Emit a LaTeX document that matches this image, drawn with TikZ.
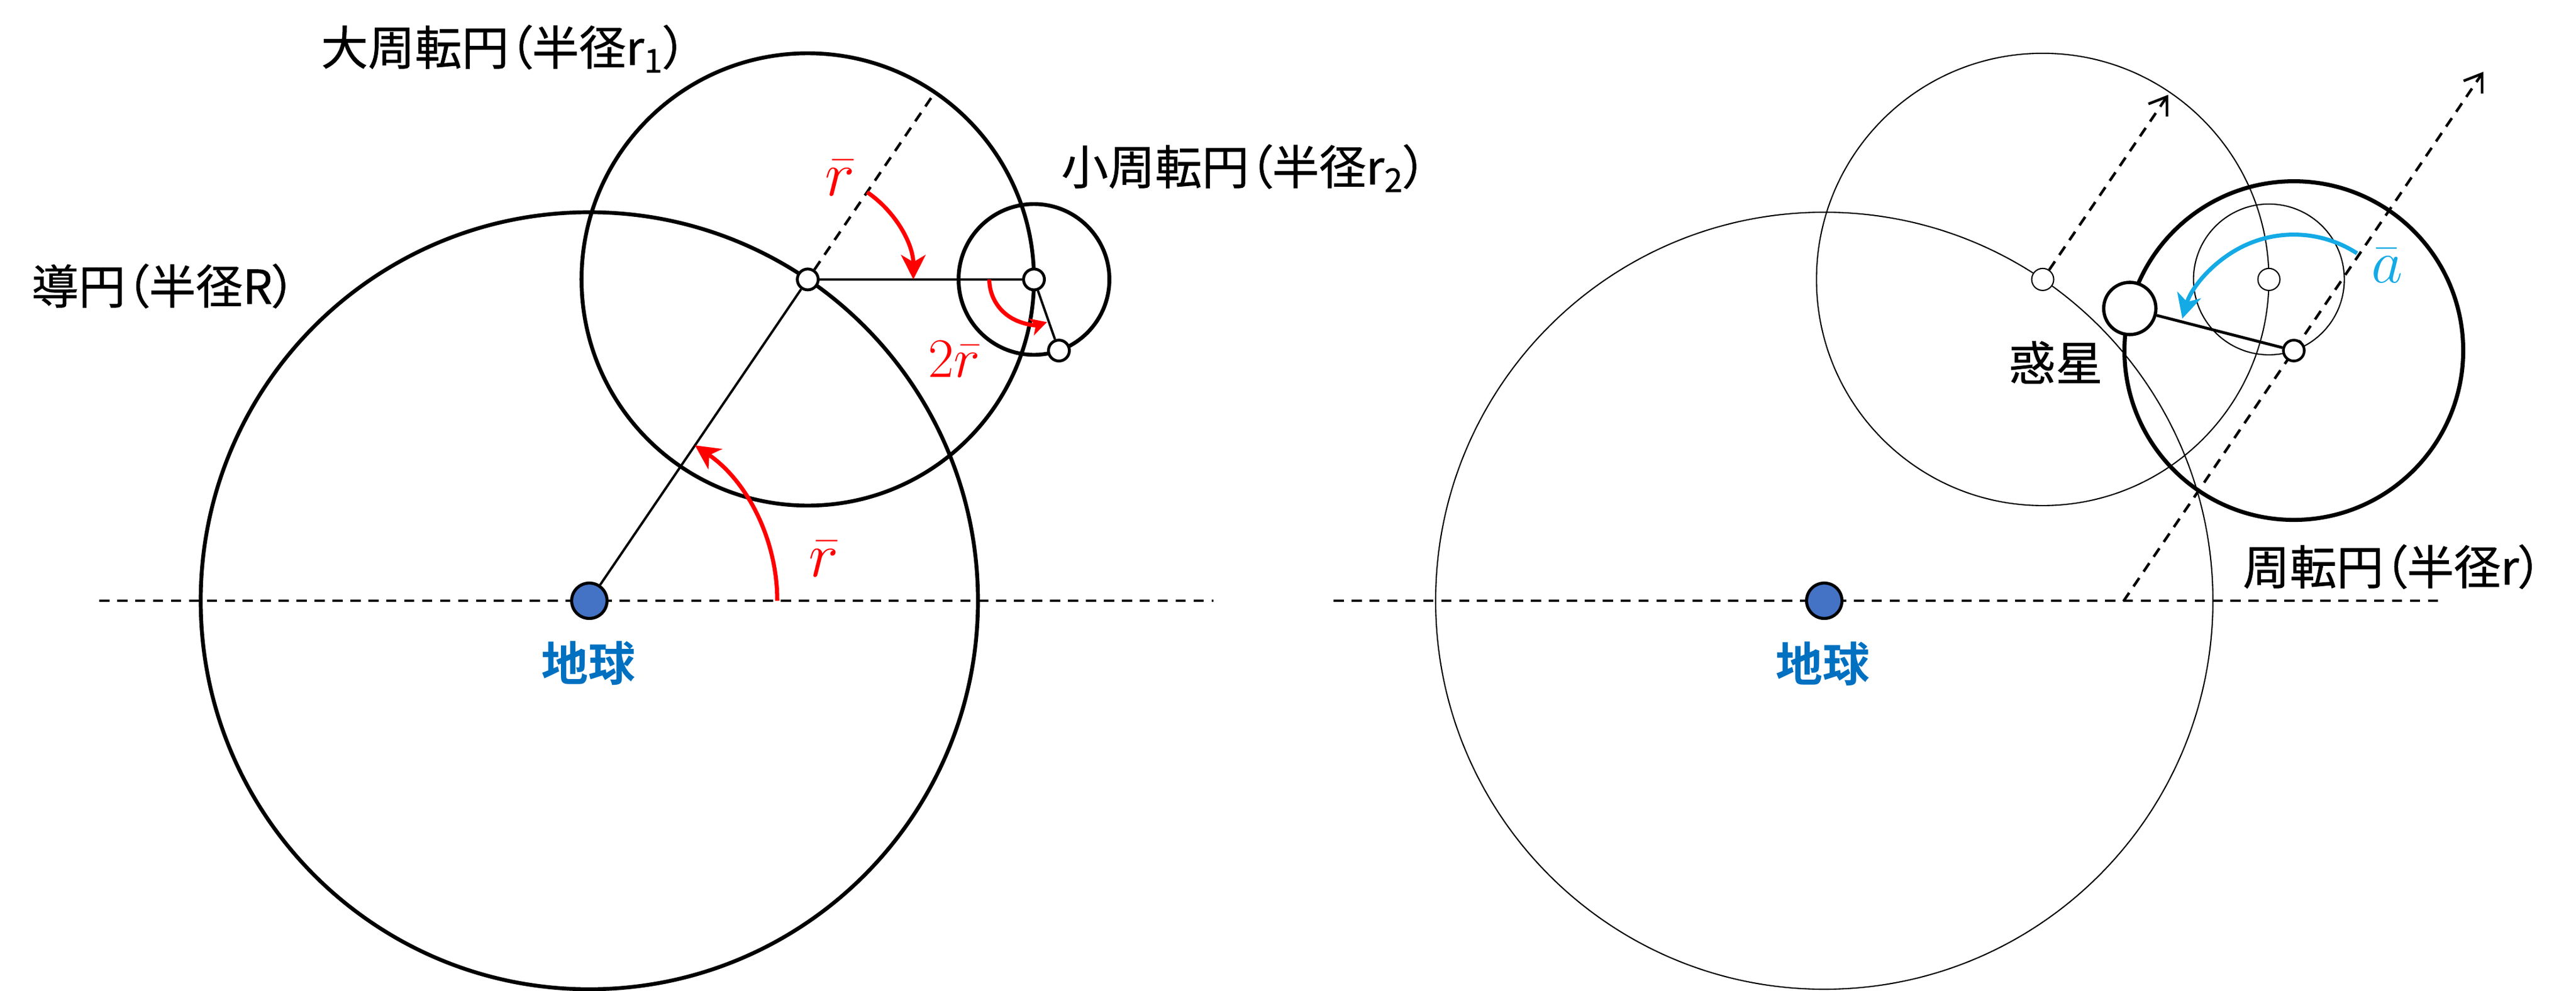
\documentclass[tikz,border=0pt]{standalone}
\usepackage{fontspec}
\newfontfamily\jp[RawFeature=+palt, FakeBold=0.7]{Noto Sans CJK JP}
\newfontfamily\jpbold[RawFeature=+palt]{Noto Sans CJK JP Bold}
\usetikzlibrary{arrows.meta,calc}
\definecolor{earthblue}{RGB}{68,114,196}
\definecolor{earthtext}{RGB}{0,112,192}
\definecolor{abarblue}{RGB}{20,170,230}

\begin{document}
\begin{tikzpicture}[
  thickcirc/.style={line width=1.9pt},
  thincirc/.style={line width=0.6pt},
  axisline/.style={line width=1.3pt, dash pattern=on 5pt off 3.8pt},
  link/.style={line width=1.15pt},
  barb/.style={-{Straight Barb[length=8pt,width=11pt]}},
  redarc/.style={red, line width=2pt, -{Stealth[length=12pt,width=12pt,inset=3.5pt]}},
  dot/.style={circle, draw, fill=white, inner sep=0pt, minimum size=0.36cm, line width=1.4pt},
  earth/.style={circle, draw, fill=earthblue, inner sep=0pt, minimum size=0.61cm, line width=1.5pt},
  jtext/.style={inner sep=0pt, font=\jp\fontsize{23}{28}\selectfont},
  mtext/.style={inner sep=0pt, font=\fontsize{24.88}{30}\selectfont}
]
\useasboundingbox (0,0) rectangle (44.41,-17.09);

% left: deferent with two epicycles
\coordinate (E1) at (10.16,-10.36);
\coordinate (D1) at ($(E1)+(55.8:6.70)$);
\coordinate (S1) at ($(D1)+(3.90,0)$);
\coordinate (P1) at ($(S1)+(-70.7:1.30)$);
\coordinate (ext1) at ($(D1)+(55.8:3.85)$);
\coordinate (axis1a) at (1.71,-10.36);
\coordinate (axis1b) at (20.92,-10.36);

\draw[thickcirc] (E1) circle (6.70);
\draw[thickcirc] (D1) circle (3.90);
\draw[thickcirc] (S1) circle (1.30);
\draw[axisline] (axis1a) -- (axis1b);

\node[earth] (earth1) at (E1) {};
\node[dot] (big1) at (D1) {};
\node[dot] (small1) at (S1) {};
\node[dot] (planet1) at (P1) {};

\draw[link] (earth1) -- (big1);
\draw[link] (big1) -- (small1);
\draw[link] (small1) -- (planet1);
\draw[axisline] (big1) -- (ext1);

\draw[redarc] ($(E1)+(3.24,0)$) arc[start angle=0, end angle=55.8, radius=3.24];
\draw[redarc] ($(D1)+(55.8:1.82)$) arc[start angle=55.8, end angle=0, radius=1.82];
\draw[red, line width=2pt, -{Stealth[length=8pt,width=8.5pt,inset=2.2pt]}] ($(S1)+(180:0.77)$) arc[start angle=180, end angle=287, radius=0.77];

\node[mtext, red, scale=1.25] (rbar1) at (14.20,-9.64) {$\bar{r}$};
\node[mtext, red, scale=1.25] (rbar2) at (14.48,-3.07) {$\bar{r}$};
\node[mtext, red, scale=1.1] (rbar3) at (16.45,-6.19) {$2\bar{r}$};

\node[jtext, anchor=base west] (deflabel) at (0.54,-5.24) {導円（半径R）};
\node[jtext, anchor=base west] (bigepi) at (5.53,-1.12) {大周転円（半径r\textsubscript{1}）};
\node[jtext, anchor=base west] (smallepi) at (18.29,-3.18) {小周転円（半径r\textsubscript{2}）};
\node[jtext, earthtext, font=\jpbold\fontsize{23}{28}\selectfont] (earthlabel1) at (10.14,-11.44) {地球};

% right: the same, reduced to one epicycle
\coordinate (E2) at ($(E1)+(21.29,0)$);
\coordinate (D2) at ($(D1)+(21.29,0)$);
\coordinate (S2) at ($(S1)+(21.29,0)$);
\coordinate (C2) at ($(P1)+(21.29,0)$);
\coordinate (P2) at ($(C2)+(165.6:2.92)$);
\coordinate (F2) at ($(C2)+(235.8:5.227)$);
\coordinate (tip2a) at ($(D2)+(55.8:3.85)$);
\coordinate (tip2b) at ($(F2)+(55.8:11.04)$);
\coordinate (axis2a) at (22.99,-10.36);
\coordinate (axis2b) at (42.05,-10.36);

\draw[thincirc] (E2) circle (6.70);
\draw[thincirc] (D2) circle (3.90);
\draw[thincirc] (S2) circle (1.30);
\draw[line width=2pt] (C2) circle (2.92);
\draw[axisline] (axis2a) -- (axis2b);
\draw[axisline, barb] (F2) -- (tip2b);

\node[earth] (earth2) at (E2) {};
\node[dot, line width=0.6pt, minimum size=0.38cm] (big2) at (D2) {};
\node[dot, line width=0.6pt, minimum size=0.38cm] (small2) at (S2) {};
\node[dot, line width=1.3pt] (centre2) at (C2) {};
\node[dot, line width=1.6pt, minimum size=0.9cm] (planet2) at (P2) {};

\draw[axisline, barb] (big2) -- (tip2a);
\draw[line width=1.4pt] (centre2) -- (planet2);
\draw[abarblue, line width=2pt, -{Stealth[length=12pt,width=12pt,inset=3.5pt]}] ($(C2)+(57:2.0)$) arc[start angle=57, end angle=164, radius=2.0];

\node[mtext, abarblue, scale=1.2] (abar) at (41.15,-4.58) {$\bar{a}$};
\node[jtext] (planetlabel) at (35.44,-6.25) {惑星};
\node[jtext, anchor=base west] (epilabel) at (38.66,-10.08) {周転円（半径r）};
\node[jtext, earthtext, font=\jpbold\fontsize{23}{28}\selectfont] (earthlabel2) at (31.42,-11.45) {地球};
\end{tikzpicture}
\end{document}
